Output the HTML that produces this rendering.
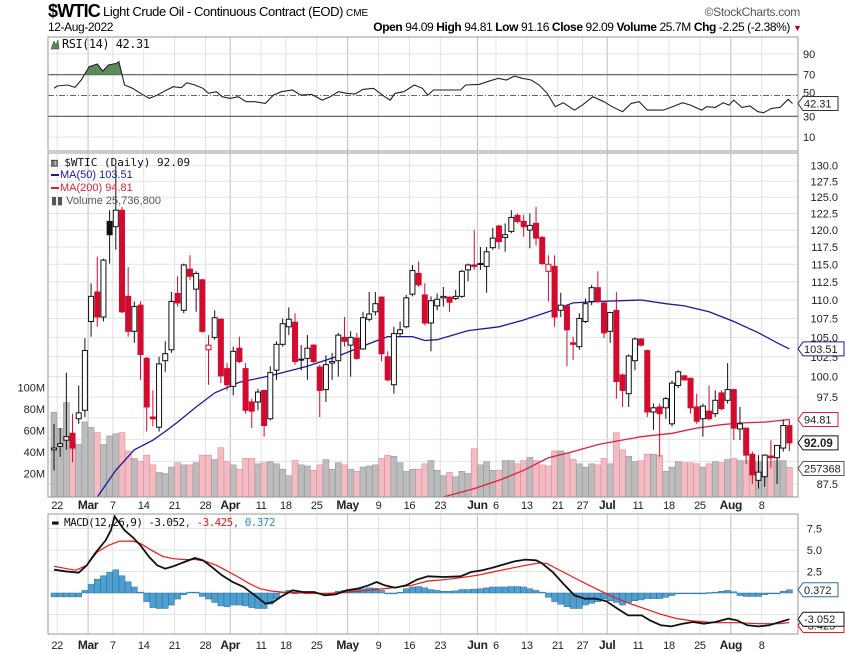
<!DOCTYPE html>
<html><head><meta charset="utf-8"><style>
body{margin:0;background:#fff;}
svg{display:block;font-family:"Liberation Sans",sans-serif;}
</style></head><body>
<svg id="chart" width="845" height="654" viewBox="0 0 845 654" xmlns="http://www.w3.org/2000/svg">
<defs>
<clipPath id="cp-price"><rect x="48" y="153" width="750" height="344"/></clipPath>
<clipPath id="cp-rsi"><rect x="48" y="37" width="750" height="114"/></clipPath>
<clipPath id="cp-rsi-top"><rect x="48" y="37" width="750" height="37.7"/></clipPath>
<clipPath id="cp-macd"><rect x="48" y="514" width="750" height="120"/></clipPath>
</defs>
<g>
<text x="48" y="17" font-size="18" font-weight="bold" letter-spacing="-0.8">$WTIC</text>
<text x="103" y="16" font-size="13" letter-spacing="-0.4">Light Crude Oil - Continuous Contract (EOD)</text>
<text x="346" y="16" font-size="10">CME</text>
<text x="800" y="16" font-size="12" fill="#555" text-anchor="end" letter-spacing="-0.3">©StockCharts.com</text>
<text x="48" y="31" font-size="12" letter-spacing="-0.4">12-Aug-2022</text>
<text x="790" y="31" font-size="12" text-anchor="end" letter-spacing="-0.4"><tspan font-weight="bold">Open</tspan> 94.09 <tspan font-weight="bold">High</tspan> 94.81 <tspan font-weight="bold">Low</tspan> 91.16 <tspan font-weight="bold">Close</tspan> 92.09 <tspan font-weight="bold">Volume</tspan> 25.7M <tspan font-weight="bold">Chg</tspan> -2.25 (-2.38%)</text>
<text x="793" y="31" font-size="9" fill="#c00020">▼</text>
</g>
<g id="layer"></g>
</svg>
<script>
const opens=[91.3,91.7,92.4,93.2,94.9,95.9,107.1,111.1,107.7,121.3,120.5,123.0,110.5,105.8,109.3,102.3,95.1,93.9,102.0,103.4,110.9,108.6,114.3,111.5,112.8,103.4,105.0,107.4,101.0,98.8,103.6,101.0,96.9,96.9,98.3,94.9,100.8,104.1,106.4,107.0,102.1,102.3,104.0,101.2,98.4,101.7,102.0,105.0,104.0,104.9,103.5,107.4,108.4,110.4,102.5,99.0,105.5,106.4,110.8,113.7,110.7,106.9,109.2,110.3,110.4,110.2,110.5,114.2,114.9,115.0,114.7,117.4,120.6,118.9,119.8,122.2,121.3,120.0,121.0,118.9,114.0,114.7,108.6,109.2,104.3,103.8,107.1,109.8,111.7,109.6,105.8,108.6,100.2,97.9,102.0,104.8,103.3,95.7,96.3,96.2,94.3,98.9,100.1,99.8,96.3,94.9,95.8,95.5,98.0,97.1,98.4,93.7,93.8,90.8,87.9,88.3,90.6,90.4,91.5,94.09];
const highs=[94.3,93.8,100.5,95.5,98.9,104.9,112.3,116.1,115.8,123.0,130.0,123.5,114.6,109.8,109.8,102.5,98.3,102.5,104.5,111.1,113.3,115.1,116.3,114.0,112.9,105.3,108.6,107.5,101.7,103.8,105.1,101.7,97.3,98.5,98.3,101.3,104.5,107.5,109.0,108.2,104.0,105.3,104.1,101.5,102.7,103.0,105.6,107.7,105.8,105.6,108.4,111.1,111.1,110.5,103.2,106.4,107.1,110.7,114.9,115.4,112.3,110.5,110.9,111.8,110.5,111.4,114.2,115.1,120.0,117.5,117.5,120.3,120.8,121.0,123.0,122.5,122.3,122.5,123.5,119.1,116.3,116.3,111.0,109.3,105.1,108.2,110.2,112.1,114.0,109.8,108.4,111.1,100.4,102.8,105.0,104.9,103.4,96.7,96.7,97.5,99.5,100.8,100.2,99.8,97.9,96.7,98.9,98.3,98.3,101.7,98.5,96.3,93.8,91.1,90.7,90.8,92.4,91.8,94.8,94.81];
const lows=[89.0,90.5,91.3,89.9,94.3,95.1,105.1,106.4,107.1,115.1,117.1,108.2,105.1,104.3,99.6,93.4,94.0,93.4,100.6,103.0,109.1,108.2,112.8,108.4,105.6,99.0,104.7,99.2,98.3,97.7,101.7,95.5,93.8,95.9,92.8,94.7,99.6,103.8,105.3,101.5,100.8,99.6,101.7,95.1,96.9,99.6,100.0,103.8,100.0,102.1,103.4,107.1,107.9,101.9,99.4,97.9,105.1,106.2,110.5,111.8,106.6,103.2,108.6,109.1,108.4,110.0,110.3,112.6,114.2,114.2,111.0,117.1,117.2,116.8,119.5,121.0,119.0,117.3,117.7,114.9,109.8,106.4,107.7,101.3,102.1,103.4,106.9,109.3,109.6,104.9,104.3,97.3,96.3,96.3,100.8,103.8,95.1,93.6,90.5,94.9,94.0,98.6,99.5,95.5,94.3,92.8,94.7,95.1,95.9,96.7,92.4,92.4,89.7,87.5,87.0,87.2,89.3,87.5,91.1,91.16];
const closes=[91.5,92.0,92.8,91.5,95.6,103.3,110.5,107.7,115.6,119.3,123.0,108.4,105.8,109.1,102.8,96.3,94.9,101.6,102.9,109.8,109.6,114.9,113.3,113.7,105.8,104.0,107.6,100.1,99.0,103.2,101.9,95.9,95.8,98.1,94.1,100.5,104.1,106.8,107.4,101.9,102.2,103.6,101.9,98.3,101.5,101.9,105.3,104.5,105.0,102.3,107.6,108.1,109.5,102.9,99.6,105.5,106.0,110.3,114.1,112.1,106.9,109.9,110.1,110.5,109.7,110.5,114.0,114.9,114.7,115.1,116.8,118.8,118.3,119.3,121.9,121.3,120.5,120.7,118.8,115.1,115.0,107.7,109.3,106.0,104.1,107.5,109.5,111.7,109.8,105.6,108.3,99.4,98.3,102.6,104.8,104.0,95.7,96.2,95.5,97.3,99.2,100.6,99.6,96.2,94.6,96.4,94.9,97.1,96.1,98.4,93.8,94.3,90.7,88.5,88.8,90.7,90.4,91.8,94.1,92.09];
const volumes=[77,62,86,49,47,68,63,58,47,55,57,58,41,34,31,37,28,21,20,26,30,28,28,30,37,37,33,44,31,28,24,34,34,29,30,31,29,24,18,32,28,27,23,28,33,24,30,28,24,22,26,27,28,34,37,36,30,22,24,24,29,32,23,18,21,17,22,20,43,28,31,23,23,32,32,29,32,35,32,28,27,41,41,39,33,29,26,29,28,34,29,58,42,36,31,32,38,38,37,22,26,31,30,30,29,26,29,31,30,33,34,32,32,31,31,32,31,32,32,25.7];
const ma50Idx=[7,10,13,16,18,20,23,26,30,35,41,46,51,54,58,60,62,67,72,76,80,84,88,95,99,102,106,110,114,117,119];
const ma50Val=[86.1,89.0,91.3,92.4,93.4,94.5,96.3,98.0,99.3,100.1,101.3,102.6,104.2,105.1,105.1,104.6,104.7,105.9,106.4,107.3,108.4,109.6,109.8,110.0,109.5,109.2,108.4,107.1,105.6,104.3,103.51];
const ma200Idx=[63,68,72,76,80,84,88,91,95,100,104,108,111,115,119];
const ma200Val=[86.1,87.0,87.9,89.0,90.4,91.1,91.9,92.3,92.8,93.2,93.8,94.2,94.4,94.5,94.81];
const rsiIdx=[0,0.5,2.2,3.4,4.4,5.7,7,7.9,8.8,10.1,10.5,11.4,12.7,14,15.4,16.7,18,19.3,20.6,21.5,22.8,24.1,25,26.3,27.2,28.5,29.8,31.1,32.5,34.2,35.5,36.8,38.6,39.9,41.7,43.4,44.7,46,47.4,48.7,50,51.7,53.5,54.4,55.2,56.6,58.3,59.6,60.5,61.4,65.8,66.6,68.8,70.1,71.9,73.2,74.5,75.8,77.2,78.5,79.8,81.1,82.4,84.2,85.5,87.2,89,90.3,92,93.4,94.7,96,97.3,98.6,100.4,101.7,103,104.8,105.6,107,108.3,109.2,110,111.3,112.6,113.9,114.8,116.1,117.5,118.8,119.5];
const rsiVal=[56.9,59.1,60.1,57.8,64.9,77.7,80.3,73.5,79.3,80.9,82.5,60.1,56.9,52.1,47.2,50.4,54.6,58.5,57.5,62.3,60.1,56.9,52.1,53.7,48.8,47.2,48.8,44.0,44.0,42.4,50.4,53.7,55.3,50.4,51.1,45.6,48.8,53.7,52.1,51.4,55.9,56.9,48.8,45.6,52.1,53.7,60.1,56.9,50.4,55.3,55.3,60.1,60.7,63.3,66.5,64.9,68.7,66.5,64.9,60.1,52.1,39.2,43.1,36.0,40.8,48.8,44.0,39.2,34.4,42.4,44.0,36.0,36.0,36.0,39.9,43.1,40.8,36.0,39.2,38.6,43.1,40.8,45.6,38.6,39.9,34.4,33.5,37.6,38.6,46.3,42.31];
const macdIdx=[0,1.8,4,5.3,6.6,8.35,9.2,9.8,11.4,12.7,14,15.4,16.7,18,19.3,21.1,22.8,24.1,25.4,27.2,28.9,30.7,32.5,34.2,35.5,36.8,38.6,40.3,42.1,43.8,45.6,47.4,49.1,50.9,52.2,53.5,55.2,57,58.7,60.5,63.1,65.8,67.5,69.3,71,72.8,74.5,76.3,78,78.9,80.7,82.4,84.2,85.9,87.7,89.4,91.2,92.9,95.1,96.4,98.2,99.9,101.7,103.4,105.2,107,109.1,110.5,112.2,114,115.7,117.5,119];
const macdVal=[2.71,2.52,2.36,3.22,4.57,6.12,7.29,8.9,7.29,6.51,5.54,4.19,3.22,2.83,3.10,3.60,4.07,3.80,3.10,2.05,1.28,0.70,-0.27,-1.24,-1.05,-0.39,0.31,0.12,0.12,-0.27,-0.16,0.31,0.50,0.89,1.28,0.89,0.62,0.89,1.55,1.94,1.86,1.94,2.44,2.64,2.95,3.33,3.68,3.88,3.80,3.49,2.44,1.09,-0.27,-0.66,-0.66,-0.97,-1.82,-2.60,-2.60,-3.18,-3.76,-3.88,-3.57,-3.37,-3.57,-3.37,-2.98,-3.18,-3.76,-3.88,-3.76,-3.37,-3.052];
const sigIdx=[0,3.5,5.3,7,8.8,10.5,12.7,14,15.8,17.6,19.3,21.1,22.8,24.6,26.3,28.1,29.8,31.6,33.3,35.1,36.8,40.3,43.8,47.4,50.9,54.4,57.9,60.5,63.1,65.8,68.4,71,73.6,76.3,78.5,79.8,82.4,85,87.7,90.3,92.9,95.6,98.2,100.8,103.4,107,110.5,114,117.5,119];
const sigVal=[3.10,2.64,3.22,4.77,5.54,6.01,6.05,5.74,4.96,4.26,3.99,3.88,3.91,3.68,3.22,2.52,1.86,1.09,0.50,0.23,0.12,0.0,-0.08,0.12,0.31,0.58,0.89,1.40,1.55,1.78,2.05,2.44,2.83,3.22,3.49,3.41,2.44,1.47,0.50,-0.39,-1.16,-1.82,-2.48,-2.98,-3.26,-3.45,-3.45,-3.57,-3.57,-3.425];
const hist=[-0.45,-0.45,-0.45,-0.45,-0.45,0.3,1.0,1.6,2.0,2.4,2.7,2.0,1.3,0.7,0.1,-1.0,-1.7,-1.8,-1.8,-1.4,-0.7,-0.2,0.1,0.1,-0.4,-0.7,-1.1,-1.5,-1.6,-1.4,-1.4,-1.5,-1.7,-1.8,-1.8,-1.3,-0.7,0.1,0.3,0.0,0.1,0.0,-0.1,0.0,-0.1,0.0,0.2,0.3,0.35,0.4,0.5,0.6,0.55,0.3,-0.1,-0.1,0.1,0.5,0.7,0.75,0.6,0.4,0.3,0.2,0.2,0.25,0.4,0.4,0.45,0.5,0.6,0.7,0.7,0.7,0.75,0.75,0.7,0.5,0.3,0.1,-0.5,-1.0,-1.3,-1.6,-1.8,-1.8,-1.4,-1.2,-1.0,-0.7,-0.9,-1.1,-1.4,-1.1,-0.9,-0.8,-0.65,-0.65,-0.65,-0.5,-0.3,-0.1,-0.05,0.0,-0.05,-0.1,0.05,0.1,0.2,0.3,0.15,-0.3,-0.4,-0.4,-0.4,-0.2,-0.1,0.0,0.2,0.372];
const priceTicks=[130.0,127.5,125.0,122.5,120.0,117.5,115.0,112.5,110.0,107.5,105.0,102.5,100.0,97.5,87.5];
const gridPrices=[130,127.5,125,122.5,120,117.5,115,112.5,110,107.5,105,102.5,100,97.5,95,92.5,90,87.5];
const volTicks=[100,80,60,40,20];
const volTickLabels=["100M","80M","60M","40M","20M"];
const rsiTicks=[90,70,30,10];
const macdTicks=[7.5,5.0,2.5];
const dateIdx=[1,6,10,15,20,25,29,34,38,43,48,53,58,63,69,72,77,82,86,90,95,100,105,110,115];
const dateLabels=["22","Mar","7","14","21","28","Apr","11","18","25","May","9","16","23","Jun","6","13","21","27","Jul","11","18","25","Aug","8"];
const monthLabels=["Mar","Apr","May","Jun","Jul","Aug"];

const NS="http://www.w3.org/2000/svg";
const layer=document.getElementById('layer');
const L=48,R=798;
function x(i){return 54+i*6.18;}
function yP(p){return 165.7+(Math.log(130)-Math.log(p))*804;}
function yV(v){return 495-v*1.075;}
function yR(v){return 74.7+(70-v)*1.04;}
function yM(v){return 593-v*8.6;}
function mk(tag,attrs,parent){const e=document.createElementNS(NS,tag);for(const k in attrs)e.setAttribute(k,attrs[k]);(parent||layer).appendChild(e);return e;}
function txt(s,attrs,parent){const e=mk('text',attrs,parent);e.textContent=s;return e;}
function lineD(idx,val,fy){return idx.map((d,k)=>(k?'L':'M')+x(d).toFixed(1)+','+fy(val[k]).toFixed(1)).join('');}

const grid=mk('g',{});


const panels=[[37,151],[153,497],[514,634]];
dateIdx.forEach((d,k)=>{
  const isM=monthLabels.includes(dateLabels[k]);
  panels.forEach(p=>{
    const g=mk('line',{x1:x(d)-3,x2:x(d)-3,y1:p[0],y2:p[1],stroke:isM?'#bdbdbd':'#e2e2e2','stroke-width':1},grid);
    
    
  });
});
gridPrices.forEach(p=>{
  const g=mk('line',{x1:L,x2:R,y1:yP(p),y2:yP(p),stroke:'#e2e2e2'},grid);
  
  
});
[90,10].forEach(v=>{mk('line',{x1:L,x2:R,y1:yR(v),y2:yR(v),stroke:'#e2e2e2'},grid);});
[7.5,5,2.5,-2.5].forEach(v=>{mk('line',{x1:L,x2:R,y1:yM(v),y2:yM(v),stroke:'#e2e2e2'},grid);});

const rsiG=mk('g',{});


[70,30].forEach(v=>{const l=mk('line',{x1:L,x2:R,y1:yR(v),y2:yR(v),stroke:'#555','stroke-width':1.2},rsiG);

});
const mid=mk('line',{x1:L,x2:R,y1:yR(50),y2:yR(50),stroke:'#666','stroke-dasharray':'6,2,1,2'},rsiG);


const rd=lineD(rsiIdx,rsiVal,yR);
const fill=mk('path',{d:rd+'L'+x(rsiIdx[rsiIdx.length-1])+','+yR(70)+'L'+x(rsiIdx[0])+','+yR(70)+'Z',fill:'#5a8a5a','clip-path':'url(#cp-rsi-top)'},rsiG);


const rl=mk('path',{d:rd,fill:'none',stroke:'#222','stroke-width':1.1,'clip-path':'url(#cp-rsi)'},rsiG);


rsiTicks.forEach(v=>{const t=txt(String(v),{x:803,y:yR(v)+4,'font-size':11,fill:'#222'},rsiG);

});
txt('50',{x:803,y:yR(50)+1,'font-size':11,fill:'#222'},rsiG);

const volG=mk('g',{'clip-path':'url(#cp-price)'});


volumes.forEach((v,i)=>{
  const down=i>0&&closes[i]<closes[i-1];
  const b=mk('rect',{x:x(i)-3,y:yV(v),width:6,height:497-yV(v),fill:down?'#f2bcc4':'#bcbcbc',stroke:down?'#e38c9b':'#9a9a9a','stroke-width':0.6},volG);
  
  
});
volTicks.forEach((v,k)=>{const t=txt(volTickLabels[k],{x:45,y:yV(v)+4,'font-size':11,'text-anchor':'end',fill:'#222'});

});

const ma50=mk('path',{d:lineD(ma50Idx,ma50Val,yP),fill:'none',stroke:'#1a1aa0','stroke-width':1.3,'clip-path':'url(#cp-price)'});


const ma200=mk('path',{d:lineD(ma200Idx,ma200Val,yP),fill:'none',stroke:'#e0203a','stroke-width':1.3,'clip-path':'url(#cp-price)'});



const cG=mk('g',{'clip-path':'url(#cp-price)'});


closes.forEach((c,i)=>{
  const o=opens[i];
  const down=i>0&&c<closes[i-1];
  const col=down?'#d40a2e':'#111';
  const filled=c<o;
  const g=mk('g',{},cG);
  
  
  const xc=x(i);
  mk('line',{x1:xc,x2:xc,y1:yP(highs[i]),y2:yP(lows[i]),stroke:col,'stroke-width':1},g);
  const top=yP(Math.max(o,c)),bot=yP(Math.min(o,c));
  mk('rect',{x:xc-2.5,y:top,width:5,height:Math.max(1,bot-top),fill:filled?col:'#fff',stroke:col,'stroke-width':1},g);
});

priceTicks.forEach(p=>{const t=txt(p.toFixed(1),{x:838,y:yP(p)+4,'font-size':11,'text-anchor':'end',fill:'#222'});

});

const mG=mk('g',{});


hist.forEach((h,i)=>{
  const y0=yM(0),y1=yM(h);
  const b=mk('rect',{x:x(i)-3,y:Math.min(y0,y1),width:6,height:Math.max(0.8,Math.abs(y1-y0)),fill:'#4f9fd0',stroke:'#2a6f9a','stroke-width':0.5},mG);
  
  
});
const sl=mk('path',{d:lineD(sigIdx,sigVal,yM),fill:'none',stroke:'#f01818','stroke-width':1.2,'clip-path':'url(#cp-macd)'},mG);


const ml=mk('path',{d:lineD(macdIdx,macdVal,yM),fill:'none',stroke:'#111','stroke-width':1.8,'clip-path':'url(#cp-macd)'},mG);


macdTicks.forEach(v=>{const t=txt(v.toFixed(1),{x:822,y:yM(v)+4,'font-size':11,'text-anchor':'end',fill:'#222'},mG);

});

[505,645].forEach((yy,r)=>{
  dateIdx.forEach((d,k)=>{
    const isM=monthLabels.includes(dateLabels[k]);
    const t=txt(dateLabels[k],{x:Math.max(x(d)-3,53),y:yy+4,'font-size':isM?12:11,'font-weight':isM?'bold':'normal','text-anchor':'middle',fill:'#222','letter-spacing':'-0.3'});
    
    
  });
});

panels.forEach(p=>{const b=mk('rect',{x:L,y:p[0],width:R-L,height:p[1]-p[0],fill:'none',stroke:'#999','stroke-width':1});

});

function tag(label,yc,stroke,bold,name,fillc){
  const g=mk('g',{});
  
  
  const w=label.length*6+5;
  mk('path',{d:`M${R},${yc} L${R+5},${yc-7} L${R+5+w},${yc-7} L${R+5+w},${yc+7} L${R+5},${yc+7} Z`,fill:'#fff',stroke:stroke,'stroke-width':1},g);
  txt(label,{x:R+6,y:yc+4,'font-size':bold?11.5:11,'font-weight':bold?'bold':'normal',fill:fillc||'#222'},g);
}
tag('42.31',yR(rsiVal[rsiVal.length-1]),'#333',false,'rsi-value-tag');
tag('103.51',yP(ma50Val[ma50Val.length-1]),'#1a1aa0',false,'ma50-value-tag');
tag('94.81',yP(ma200Val[ma200Val.length-1]),'#e0203a',false,'ma200-value-tag');
tag('257368',yP(89.2),'#555',false,'volume-value-tag');
tag('92.09',yP(closes[closes.length-1]),'#111',true,'close-value-tag');
tag('0.372',yM(hist[hist.length-1]),'#2a6f9a',false,'histogram-value-tag');
tag('-3.425',yM(sigVal[sigVal.length-1])+3,'#f01818',false,'signal-value-tag');
tag('-3.052',yM(macdVal[macdVal.length-1]),'#111',false,'macd-value-tag');

const lg=mk('g',{'font-family':'"DejaVu Sans Mono","Liberation Mono",monospace','font-size':11});


txt('▥ $WTIC (Daily) 92.09',{x:51,y:166,fill:'#111'},lg);
mk('rect',{x:51,y:174,width:8,height:2,fill:'#1a1aa0'},lg);
txt('MA(50) 103.51',{x:60,y:178,fill:'#1a1aa0','font-family':'"Liberation Sans",sans-serif','font-size':11},lg);
mk('rect',{x:51,y:187,width:8,height:2,fill:'#e0203a'},lg);
txt('MA(200) 94.81',{x:60,y:191,fill:'#e0203a','font-family':'"Liberation Sans",sans-serif','font-size':11},lg);
txt('▮▮ Volume 25,736,800',{x:51,y:204,fill:'#555','font-family':'"Liberation Sans",sans-serif','font-size':11},lg);
const rlg=txt('RSI(14) 42.31',{x:62,y:48,'font-size':12,fill:'#111','font-family':'"DejaVu Sans Mono","Liberation Mono",monospace','letter-spacing':'-0.5'});


mk('path',{d:'M51,49 L54,41 L56,45 L58,40 L59,49 Z',fill:'#5a8a5a',stroke:'#333','stroke-width':0.5});
const mlg=txt('',{x:52,y:526,'font-size':11,'font-family':'"DejaVu Sans Mono","Liberation Mono",monospace','letter-spacing':'-0.6'});


mlg.innerHTML='<tspan fill="#111">▬ MACD(12,26,9) -3.052</tspan><tspan fill="#f01818">, -3.425</tspan><tspan fill="#2a8fc0">, 0.372</tspan>';
</script>
</body></html>
